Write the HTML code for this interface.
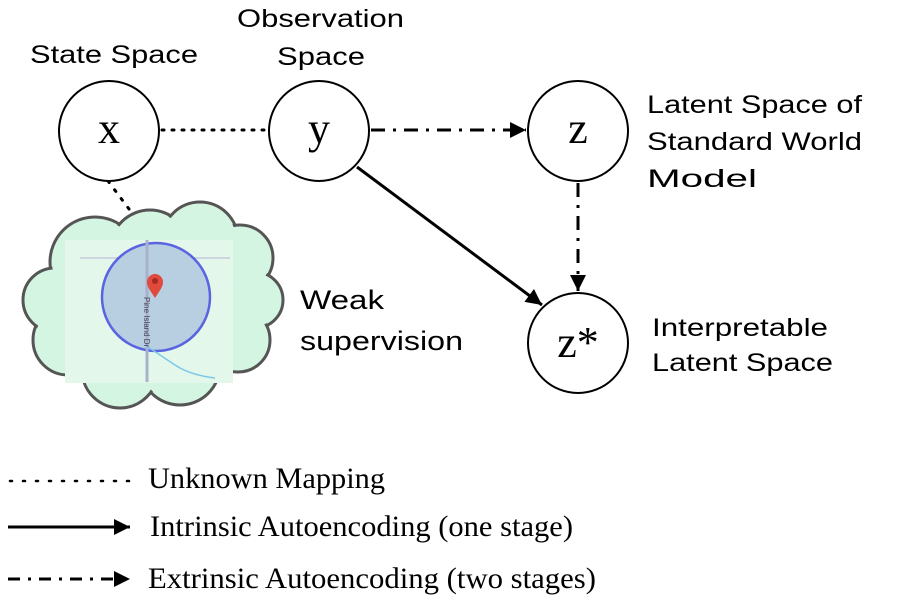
<!DOCTYPE html>
<html><head><style>body{margin:0;background:#fff}svg{display:block}</style></head><body>
<svg width="897" height="612" viewBox="0 0 897 612" xmlns="http://www.w3.org/2000/svg">
<defs>
<marker id="a2" viewBox="0 0 10 10" refX="10" refY="5" markerWidth="20" markerHeight="16" orient="auto" markerUnits="userSpaceOnUse"><path d="M0,0 L10,5 L0,10 Z" fill="#000"/></marker></defs>
<g stroke="#555" stroke-width="3" fill="#d5f5e3">
<circle cx="95" cy="262" r="45"/><circle cx="150" cy="250" r="40"/><circle cx="200" cy="240" r="38"/><circle cx="240" cy="258" r="33"/><circle cx="255" cy="300" r="28"/><circle cx="238" cy="340" r="32"/><circle cx="180" cy="365" r="40"/><circle cx="120" cy="370" r="38"/><circle cx="68" cy="340" r="35"/><circle cx="55" cy="300" r="32"/><circle cx="150" cy="305" r="70"/>
</g>
<g fill="#d5f5e3"><circle cx="95" cy="262" r="43"/><circle cx="150" cy="250" r="38"/><circle cx="200" cy="240" r="36"/><circle cx="240" cy="258" r="31"/><circle cx="255" cy="300" r="26"/><circle cx="238" cy="340" r="30"/><circle cx="180" cy="365" r="38"/><circle cx="120" cy="370" r="36"/><circle cx="68" cy="340" r="33"/><circle cx="55" cy="300" r="30"/><circle cx="150" cy="305" r="75"/></g>
<rect x="65" y="240" width="168" height="143" fill="#e3f7ea"/>
<g stroke="#c8cce0" stroke-width="1.5" fill="none"><path d="M80 258 H230"/><path d="M160 300 H195"/><path d="M160 325 H185"/></g>
<circle cx="156" cy="297" r="54" fill="#b8cfe2" stroke="#5a63e0" stroke-width="2.5"/>
<line x1="147" y1="240" x2="147" y2="382" stroke="#a9b0cc" stroke-width="3"/>
<path d="M145 345 Q160 355 175 365 T215 378" stroke="#7ec8e8" stroke-width="1.5" fill="none"/>
<text x="0" y="0" font-family="Liberation Sans, sans-serif" font-size="8" fill="#445" transform="translate(144,297) rotate(90)">Pine Island Dr</text>
<path d="M155 298 C150 290 147 287 147 282 A8 8 0 1 1 163 282 C163 287 160 290 155 298Z" fill="#e04a3c"/><circle cx="155" cy="281" r="3" fill="#a52a20"/>
<g stroke="#000" stroke-width="3" fill="none">
<line x1="162" y1="130" x2="268" y2="130" stroke-dasharray="2 8" stroke-linecap="round"/>
<line x1="108" y1="181" x2="132" y2="213" stroke-dasharray="2 9" stroke-linecap="round"/>
<line x1="371" y1="130" x2="526" y2="130" stroke-dasharray="14 8 3 8" marker-end="url(#a2)"/>
<line x1="578" y1="183" x2="578" y2="291" stroke-dasharray="14 8 3 8" marker-end="url(#a2)"/>
<line x1="357" y1="167" x2="542" y2="305" marker-end="url(#a2)"/>
</g>
<g stroke="#000" stroke-width="2" fill="#fff">
<circle cx="109" cy="131" r="50"/><circle cx="319" cy="131" r="50"/><circle cx="578" cy="131" r="50"/><circle cx="578" cy="343" r="50"/>
</g>
<g font-family="Liberation Serif, serif" font-size="44" text-anchor="middle" fill="#000">
<text x="109" y="143">x</text><text x="319" y="143">y</text><text x="578" y="143">z</text><text x="578" y="357">z*</text>
</g>
<g font-family="Liberation Sans, sans-serif" font-size="25" fill="#000" lengthAdjust="spacingAndGlyphs">
<text x="30" y="63" textLength="168" lengthAdjust="spacingAndGlyphs">State Space</text>
<text x="237" y="27" textLength="167" lengthAdjust="spacingAndGlyphs">Observation</text>
<text x="277" y="65" textLength="88" lengthAdjust="spacingAndGlyphs">Space</text>
<text x="647" y="113" textLength="215" lengthAdjust="spacingAndGlyphs">Latent Space of</text>
<text x="647" y="150" textLength="215" lengthAdjust="spacingAndGlyphs">Standard World</text>
<text x="647" y="187" textLength="110" lengthAdjust="spacingAndGlyphs">Model</text>
<text x="300" y="309" font-size="27" textLength="84" lengthAdjust="spacingAndGlyphs">Weak</text>
<text x="300" y="350" font-size="27" textLength="163" lengthAdjust="spacingAndGlyphs">supervision</text>
<text x="652" y="336" textLength="176" lengthAdjust="spacingAndGlyphs">Interpretable</text>
<text x="652" y="371" textLength="181" lengthAdjust="spacingAndGlyphs">Latent Space</text>
</g>
<g stroke="#000" stroke-width="3" fill="none">
<line x1="10" y1="481" x2="130" y2="481" stroke-width="2.5" stroke-dasharray="2 11" stroke-linecap="round"/>
<line x1="8" y1="527" x2="130" y2="527" marker-end="url(#a2)"/>
<line x1="8" y1="579" x2="130" y2="579" stroke-dasharray="12 8 3 8" marker-end="url(#a2)"/>
</g>
<g font-family="Liberation Serif, serif" font-size="30" fill="#000">
<text x="148" y="488" textLength="237" lengthAdjust="spacingAndGlyphs">Unknown Mapping</text>
<text x="150" y="536" textLength="423" lengthAdjust="spacingAndGlyphs">Intrinsic Autoencoding (one stage)</text>
<text x="148" y="588" textLength="448" lengthAdjust="spacingAndGlyphs">Extrinsic Autoencoding (two stages)</text>
</g>
</svg>
</body></html>
